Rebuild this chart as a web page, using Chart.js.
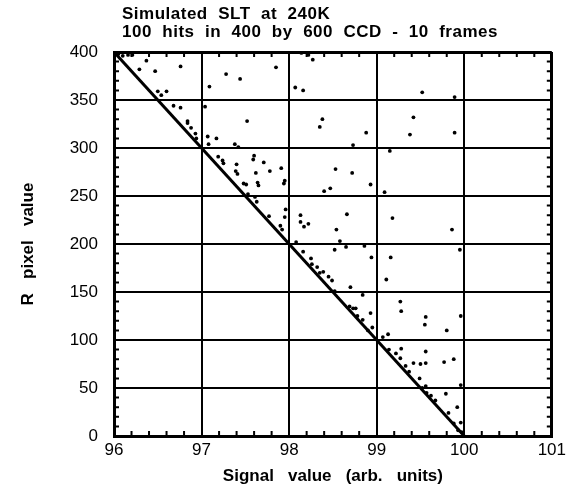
<!DOCTYPE html>
<html>
<head>
<meta charset="utf-8">
<script src="https://cdn.jsdelivr.net/npm/chart.js@4.4.0/dist/chart.umd.min.js"></script>
<style>
  html, body { margin: 0; padding: 0; background: #fff; }
</style>
</head>
<body>
<canvas id="slt" width="570" height="495"></canvas>
<script>
// Chart text
const titleLines = ["Simulated  SLT  at  240K", "100  hits  in  400  by  600  CCD  -  10  frames"];
const xTitle = "Signal   value   (arb.   units)";
const yTitle = "R   pixel   value";

// Tick labels
const xTickValues = [96, 97, 98, 99, 100, 101];
const yTickValues = [0, 50, 100, 150, 200, 250, 300, 350, 400];

// Diagonal reference line (signal, pixel)
const lineSignal = [96, 100];
const linePixel = [400, 0];

// Simulated hits
const hitSignal = [
  96.05, 96.10, 96.16, 96.21, 96.37, 96.29, 96.47, 96.76, 96.50, 96.54,
  96.60, 96.68, 96.76, 96.84, 96.88, 96.93, 96.94, 96.84, 97.09, 97.28,
  97.44, 97.04, 97.52, 97.07, 97.17, 97.08, 97.38, 97.42, 97.19, 97.24,
  97.25, 97.40, 97.60, 97.59, 97.71, 97.78, 97.91, 97.39, 97.41, 97.62,
  97.64, 97.65, 97.48, 97.51, 97.95, 97.94, 97.53, 97.61, 97.63, 97.77,
  97.96, 97.95, 97.90, 97.92, 98.14, 98.22, 98.27, 97.85, 98.07, 98.16,
  98.38, 98.35, 98.88, 98.73, 99.15, 98.53, 98.72, 98.93, 98.47, 98.40,
  99.09, 98.66, 98.54, 99.18, 98.58, 98.08, 98.13, 98.13, 98.17, 98.22,
  99.52, 99.89, 99.42, 99.38, 99.89, 99.86, 98.16, 98.25, 98.26, 98.32,
  98.35, 98.39, 98.45, 98.49, 98.52, 98.52, 98.65, 98.86, 98.94, 98.70,
  98.84, 99.16, 99.11, 98.69, 98.73, 98.76, 98.78, 98.84, 98.93, 98.90,
  98.95, 99.07, 99.13, 99.27, 99.28, 99.14, 99.22, 99.27, 99.28, 99.95,
  99.56, 99.55, 99.80, 99.96, 99.56, 99.42, 99.50, 99.56, 99.77, 99.88,
  99.33, 99.37, 99.49, 99.56, 99.96, 99.57, 99.67, 99.79, 99.92, 99.82,
  99.88, 99.96, 99.62, 99.52, 99.93, 99.97
];
const hitPixel = [
  398, 396, 397, 397, 391, 382, 380, 385, 359, 355,
  359, 344, 342, 328, 321, 315, 310, 326, 364, 377,
  372, 343, 328, 312, 310, 304, 304, 301, 291, 287,
  284, 283, 292, 288, 285, 276, 279, 276, 273, 274,
  264, 261, 263, 262, 266, 263, 252, 249, 244, 229,
  236, 228, 219, 215, 399, 397, 392, 384, 363, 360,
  330, 322, 316, 303, 297, 278, 274, 262, 258, 255,
  254, 231, 215, 227, 203, 202, 230, 223, 218, 221,
  358, 353, 332, 314, 316, 215, 192, 185, 179, 176,
  170, 171, 166, 162, 151, 194, 197, 198, 186, 155,
  147, 186, 163, 135, 133, 133, 125, 121, 128, 110,
  113, 103, 106, 140, 130, 90, 86, 81, 91, 194,
  124, 116, 110, 125, 88, 76, 75, 76, 77, 80,
  73, 67, 60, 52, 53, 45, 37, 44, 30, 24,
  13, 14, 42, 50, 6, 4
];

const FONT = "'Liberation Sans', Arial, Helvetica, sans-serif";

const hits = hitSignal.map((x, i) => ({ x, y: hitPixel[i] }));
const diagonal = lineSignal.map((x, i) => ({ x, y: linePixel[i] }));

// small inward ticks between the grid lines
const minorTicks = {
  id: "minorTicks",
  afterDraw(chart) {
    const { ctx, chartArea: a, scales } = chart;
    ctx.save();
    ctx.strokeStyle = "#000";
    ctx.lineWidth = 2;
    ctx.beginPath();
    for (let i = 1; i < 25; i++) {
      if (i % 5 === 0) continue;
      const px = scales.x.getPixelForValue(96 + i * 0.2);
      ctx.moveTo(px, a.bottom); ctx.lineTo(px, a.bottom - 5);
      ctx.moveTo(px, a.top); ctx.lineTo(px, a.top + 5);
    }
    for (let j = 1; j < 40; j++) {
      if (j % 5 === 0) continue;
      const py = scales.y.getPixelForValue(j * 10);
      ctx.moveTo(a.left, py); ctx.lineTo(a.left + 5, py);
      ctx.moveTo(a.right, py); ctx.lineTo(a.right - 5, py);
    }
    ctx.stroke();
    ctx.restore();
  }
};

// two-line title, left aligned over the plot
const titleText = {
  id: "titleText",
  afterDraw(chart) {
    const { ctx, chartArea: a } = chart;
    ctx.save();
    ctx.fillStyle = "#000";
    ctx.font = "bold 17px " + FONT;
    if ("letterSpacing" in ctx) ctx.letterSpacing = "0.5px";
    ctx.textBaseline = "middle";
    ctx.textAlign = "left";
    titleLines.forEach((t, i) => ctx.fillText(t, a.left + 8, 14 + i * 18));
    ctx.restore();
  }
};

const edgeWidth = (max) => (c) => (c.tick && c.tick.value === max ? 3 : 2);

new Chart(document.getElementById("slt"), {
  type: "scatter",
  data: {
    datasets: [
      {
        data: diagonal,
        showLine: true,
        borderColor: "#000",
        borderWidth: 3,
        pointRadius: 0,
        order: 1
      },
      {
        data: hits,
        backgroundColor: "#000",
        borderWidth: 0,
        pointRadius: 1.9,
        order: 2
      }
    ]
  },
  options: {
    responsive: false,
    animation: false,
    layout: { padding: { top: 52, right: 17, left: 0, bottom: 0 } },
    plugins: { legend: { display: false }, tooltip: { enabled: false } },
    scales: {
      x: {
        type: "linear",
        min: 96,
        max: 101,
        afterBuildTicks: (s) => { s.ticks = xTickValues.map((v) => ({ value: v })); },
        afterFit: (s) => { s.height = 59; },
        grid: { color: "#000", lineWidth: edgeWidth(101), drawTicks: false },
        border: { color: "#000", width: 3 },
        ticks: { color: "#000", font: { family: FONT, size: 17 }, padding: 4, maxRotation: 0 },
        title: {
          display: true, text: xTitle, color: "#000",
          font: { family: FONT, size: 17, weight: "bold" },
          padding: { top: 0, bottom: 8 }
        }
      },
      y: {
        type: "linear",
        min: 0,
        max: 400,
        afterBuildTicks: (s) => { s.ticks = yTickValues.map((v) => ({ value: v })); },
        afterFit: (s) => { s.width = 114; },
        grid: { color: "#000", lineWidth: edgeWidth(400), drawTicks: false },
        border: { color: "#000", width: 3 },
        ticks: { color: "#000", font: { family: FONT, size: 17 }, padding: 16 },
        title: {
          display: true, text: yTitle, color: "#000",
          font: { family: FONT, size: 17, weight: "bold" },
          padding: { top: 18, bottom: 0 }
        }
      }
    }
  },
  plugins: [minorTicks, titleText]
});
</script>
</body>
</html>
